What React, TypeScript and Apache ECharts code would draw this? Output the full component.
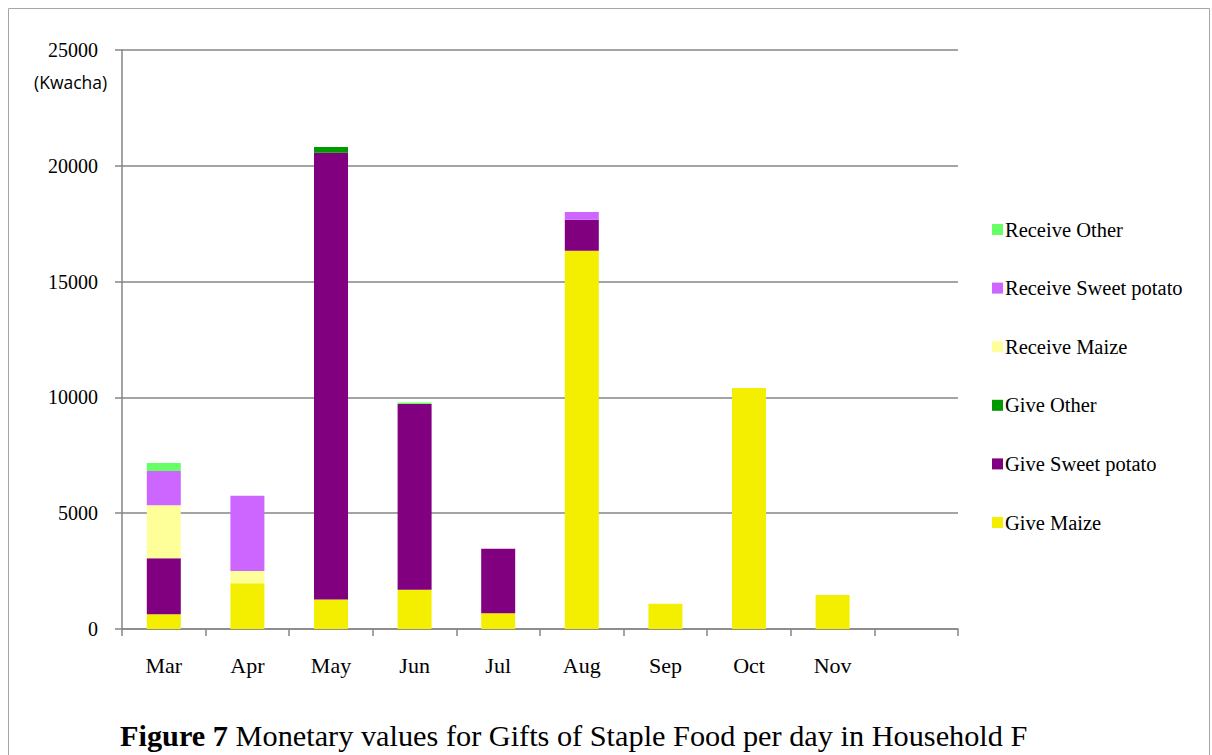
import React, { useEffect, useRef } from "react";
import * as echarts from "echarts";

const categories = ["Mar", "Apr", "May", "Jun", "Jul", "Aug", "Sep", "Oct", "Nov", ""];
const giveMaize = [640, 1970, 1270, 1690, 680, 16330, 1090, 10410, 1470, 0];
const giveSweetPotato = [2410, 0, 19290, 8030, 2780, 1340, 0, 0, 0, 0];
const giveOther = [0, 0, 250, 0, 0, 0, 0, 0, 0, 0];
const receiveMaize = [2290, 530, 0, 0, 0, 0, 0, 0, 0, 0];
const receiveSweetPotato = [1480, 3250, 0, 0, 0, 330, 0, 0, 0, 0];
const receiveOther = [350, 0, 0, 60, 0, 0, 0, 0, 0, 0];
const yTicks = [0, 5000, 10000, 15000, 20000, 25000];

const seriesDefs = [
  { name: "Give Maize", data: giveMaize, color: "#F4EE00" },
  { name: "Give Sweet potato", data: giveSweetPotato, color: "#800080" },
  { name: "Give Other", data: giveOther, color: "#009900" },
  { name: "Receive Maize", data: receiveMaize, color: "#FFFF99" },
  { name: "Receive Sweet potato", data: receiveSweetPotato, color: "#CC66FF" },
  { name: "Receive Other", data: receiveOther, color: "#66FF66" },
];

const SERIF = "'Liberation Serif', 'Times New Roman', serif";

export default function App() {
  const ref = useRef<HTMLDivElement>(null);
  useEffect(() => {
    if (!ref.current) return;
    const chart = echarts.init(ref.current, undefined, { renderer: "svg" });
    chart.setOption({
      animation: false,
      backgroundColor: "#ffffff",
      title: {
        text: "{b|Figure 7} Monetary values for Gifts of Staple Food per day in Household F",
        left: 120,
        top: 719,
        padding: 0,
        textStyle: {
          fontFamily: SERIF,
          fontSize: 30.3,
          fontWeight: "normal",
          color: "#000",
          lineHeight: 34,
          rich: {
            b: { fontFamily: SERIF, fontSize: 30.3, fontWeight: "bold", color: "#000", lineHeight: 34 },
          },
        },
      },
      graphic: [
        {
          type: "rect",
          shape: { x: 8.5, y: 8.5, width: 1201, height: 760 },
          style: { fill: "none", stroke: "#a6a6a6", lineWidth: 1 },
          silent: true,
        },
        {
          type: "text",
          left: 34,
          top: 73,
          style: {
            text: "(Kwacha)",
            font: "17.5px 'Open Sans', sans-serif",
            fill: "#000",
          },
        },
      ],
      legend: {
        orient: "vertical",
        left: 987,
        top: 214,
        itemWidth: 11,
        itemHeight: 11,
        itemGap: 37.6,
        icon: "rect",
        data: seriesDefs.map((s) => s.name).reverse(),
        textStyle: { fontFamily: SERIF, fontSize: 20.5, color: "#000", lineHeight: 21, padding: [0, 0, 0, -3] },
      },
      grid: { left: 122, right: 1212 - 958, top: 50, bottom: 755 - 629, containLabel: false },
      xAxis: {
        type: "category",
        data: categories,
        axisLine: { lineStyle: { color: "#868686", width: 1.5 } },
        axisTick: { show: true, length: 7, lineStyle: { color: "#868686", width: 1.5 } },
        axisLabel: { fontFamily: SERIF, fontSize: 22, color: "#000", margin: 25 },
      },
      yAxis: {
        type: "value",
        min: 0,
        max: 25000,
        interval: 5000,
        axisLine: { show: true, lineStyle: { color: "#868686", width: 1.5 } },
        axisTick: { show: true, length: 7, lineStyle: { color: "#868686", width: 1.5 } },
        splitLine: { lineStyle: { color: "#868686", width: 1.5 } },
        axisLabel: {
          fontFamily: SERIF,
          fontSize: 20,
          color: "#000",
          margin: 24,
          formatter: (v: number) => (yTicks.includes(v) ? String(v) : ""),
        },
      },
      series: seriesDefs.map((s) => ({
        name: s.name,
        type: "bar",
        stack: "total",
        barWidth: 34,
        data: s.data,
        itemStyle: { color: s.color },
      })),
    });
    return () => chart.dispose();
  }, []);
  return (
    <div
      ref={ref}
      style={{ position: "fixed", left: 0, top: 0, width: 1212, height: 755 }}
    />
  );
}
